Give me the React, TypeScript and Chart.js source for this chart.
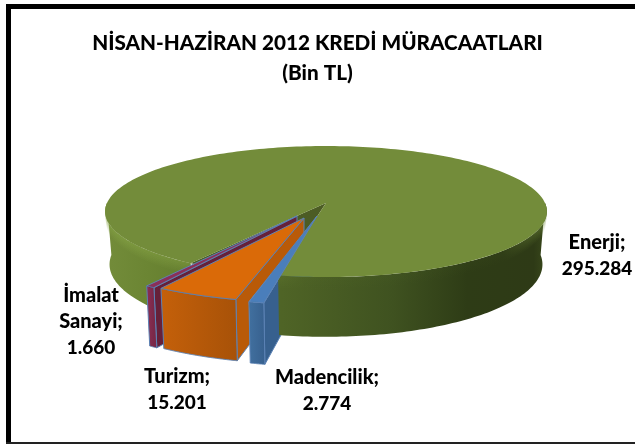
import React, { useEffect, useRef } from "react";
import { Chart, registerables } from "chart.js";

Chart.register(...registerables);

// ---- data ----
const categories = ["Madencilik", "Turizm", "İmalat Sanayi", "Enerji"];
const values = [2774, 15201, 1660, 295284];
const labelLines = [["Madencilik;"], ["Turizm;"], ["İmalat", "Sanayi;"], ["Enerji;"]];
const titleLines = ["NİSAN-HAZİRAN 2012 KREDİ MÜRACAATLARI", "(Bin TL)"];

// ---- styling ----
const FONT = "Lato, Carlito, Calibri, sans-serif";
const topColors = ["#4a7ebb", "#da6a08", "#8b2f58", "#738c3a"];
const wallColors = ["#37608e", "#b95a08", "#662039", "#4c5c24"];
const frontFrom = ["#41709f", "#c4600a", "#8b2f55", "#738c3a"];
const frontTo = ["#38618f", "#a85208", "#7a2848", "#738c3a"];
const explodeX = [-9, -22, -29, 0];
const explodeY = [13, 15, 13, 0];
const scaleX = [1.11, 1.11, 1.11, 1];
const scaleY = [1.2, 1.14, 1.16, 1];
const scaleZ = [1.03, 1.03, 1.03, 1];
const labelX = [327, 177, 91, 597];
const labelY = [378, 377, 296, 243];

const SHIFT_X = 8.5; // pie sits right of the title's centre
const P = 0.13; // perspective strength
const RX = 219 / 113; // screen half-width per unit of arc radius
const RY = 64.4 / 113;
const DEPTH = 52 / 113;

const fmt = (v: number) => String(v).replace(/\B(?=(\d{3})+$)/g, ".");

const pie3d = {
  id: "pie3d",
  beforeDraw(chart: any) {
    const c = chart.ctx;
    c.save();
    c.fillStyle = "#ffffff";
    c.fillRect(0, 0, 635, 444);
    c.fillStyle = "#000000";
    c.fillRect(6, 4, 629, 5);
    c.fillRect(6, 4, 5, 440);
    c.fillStyle = "#222222";
    c.fillRect(6, 442, 629, 2);
    c.restore();
  },
  beforeDatasetDraw(chart: any, args: any) {
    const c: CanvasRenderingContext2D = chart.ctx;
    const arcs = args.meta.data.map((e: any) =>
      e.getProps(["x", "y", "startAngle", "endAngle", "outerRadius"], true)
    );
    const R = arcs[0].outerRadius;
    const cx0 = arcs[0].x + SHIFT_X;
    const cy0 = arcs[0].y;
    const pt = (i: number, a: number, r: number, z: number): [number, number] => {
      const X = Math.cos(a) * r;
      const Y = Math.sin(a) * r;
      const w = 1 - P * Y;
      return [
        cx0 + explodeX[i] + (scaleX[i] * RX * R * X * (1 - 0.02 * z)) / w,
        cy0 + explodeY[i] + (scaleY[i] * RY * R * Y) / w + (scaleZ[i] * DEPTH * R * z) / w,
      ];
    };
    const samples = (a0: number, a1: number, n = 90) => {
      const out: number[] = [];
      for (let k = 0; k <= n; k++) out.push(a0 + ((a1 - a0) * k) / n);
      return out;
    };
    const poly = (pts: [number, number][]) => {
      c.beginPath();
      pts.forEach((p, k) => (k ? c.lineTo(p[0], p[1]) : c.moveTo(p[0], p[1])));
      c.closePath();
    };
    const band = (i: number, a0: number, a1: number, z0: number, z1: number) => {
      const as = samples(a0, a1);
      return [
        ...as.map((a) => pt(i, a, 1, z0)),
        ...as.slice().reverse().map((a) => pt(i, a, 1, z1)),
      ];
    };
    const OUT = "#5b82b5";
    const wall = (i: number) => {
      const a = arcs[i].startAngle;
      poly([pt(i, a, 0, 0), pt(i, a, 1, 0), pt(i, a, 1, 1), pt(i, a, 0, 1)]);
      c.fillStyle = wallColors[i];
      c.fill();
      c.lineWidth = 1;
      c.strokeStyle = OUT;
      c.stroke();
    };
    const faces = (i: number) => {
      const { startAngle: a0, endAngle: a1 } = arcs[i];
      const f = band(i, a0, a1, 0, 1);
      poly(f);
      const p0 = pt(i, a1, 1, 0);
      const p1 = pt(i, a0, 1, 0);
      const g = c.createLinearGradient(p0[0], 0, p1[0], 0);
      g.addColorStop(0, frontFrom[i]);
      g.addColorStop(1, frontTo[i]);
      c.fillStyle = g;
      c.fill();
      c.strokeStyle = OUT;
      c.lineWidth = 1;
      c.stroke();
      poly([pt(i, a0, 0, 0), ...samples(a0, a1).map((a) => pt(i, a, 1, 0))]);
      c.fillStyle = topColors[i];
      c.fill();
      c.stroke();
    };

    const E = 3;
    const e0 = arcs[E].startAngle;
    const e1 = arcs[E].endAngle;
    const TWO = Math.PI * 2;

    c.save();
    // inner notch of the big slice
    poly([pt(E, e0, 0, 0), ...samples(e1 - TWO, e0, 30).map((a) => pt(E, a, 1, 0))]);
    c.fillStyle = wallColors[E];
    c.fill();

    // madencilik wall sits behind the body of the big slice
    wall(0);

    // side of the big slice
    const sg = c.createLinearGradient(cx0 - 221, 0, cx0 + 221, 0);
    sg.addColorStop(0, "#738c3a");
    sg.addColorStop(0.1, "#6b8533");
    sg.addColorStop(0.2, "#627b2e");
    sg.addColorStop(0.4, "#4f6426");
    sg.addColorStop(0.65, "#3f5220");
    sg.addColorStop(0.82, "#2e3c16");
    sg.addColorStop(0.97, "#2e3a16");
    sg.addColorStop(1, "#3a4a1c");
    const ranges: [number, number][] = [
      [e0, Math.PI],
      [TWO, e1],
    ];
    ranges.forEach(([a0, a1]) => {
      poly(band(E, a0, a1, 0, 1));
      c.fillStyle = sg;
      c.fill();
    });
    // bevel
    const bg = c.createLinearGradient(cx0 - 221, 0, cx0 + 221, 0);
    bg.addColorStop(0, "rgba(135,165,70,0.9)");
    bg.addColorStop(0.25, "rgba(130,158,66,0.6)");
    bg.addColorStop(0.45, "rgba(120,148,60,0.05)");
    bg.addColorStop(0.9, "rgba(120,148,60,0.05)");
    bg.addColorStop(1, "rgba(110,138,56,0.7)");
    const steps = 7;
    for (let s = 0; s < steps; s++) {
      c.globalAlpha = 0.7 * (1 - s / steps);
      ranges.forEach(([a0, a1]) => {
        poly(band(E, a0, a1, (s / steps) * 0.2, ((s + 1) / steps) * 0.2));
        c.fillStyle = bg;
        c.fill();
      });
    }
    c.globalAlpha = 1;

    // top of the big slice
    poly([pt(E, e0, 0, 0), ...samples(e0, e1, 240).map((a) => pt(E, a, 1, 0))]);
    c.fillStyle = topColors[E];
    c.fill();

    // exploded slices, back to front; the walls stop at the next slice's edge
    const m1 = arcs[0].endAngle;
    const apexM = pt(0, m1, 0, 0);
    const rimM = pt(0, m1, 1, 0);
    const botM = pt(0, m1, 1, 1);
    c.save();
    poly([apexM, rimM, botM, [0, botM[1]], [0, apexM[1] - 10], [apexM[0], apexM[1] - 10]]);
    c.clip();
    wall(2);
    wall(1);
    c.restore();
    faces(2);
    faces(1);
    faces(0);
    c.restore();
    return false;
  },
  afterDatasetsDraw(chart: any) {
    const c: CanvasRenderingContext2D = chart.ctx;
    c.save();
    c.fillStyle = "#000000";
    c.textAlign = "center";
    c.textBaseline = "middle";
    categories.forEach((_, i) => {
      c.font = `900 20px ${FONT}`;
      labelLines[i].forEach((t, k) => c.fillText(t, labelX[i], labelY[i] + k * 26));
      c.font = `900 19px ${FONT}`;
      c.fillText(fmt(values[i]), labelX[i], labelY[i] + labelLines[i].length * 26);
    });
    c.restore();
  },
};

export default function App() {
  const ref = useRef<HTMLCanvasElement | null>(null);
  useEffect(() => {
    const chart = new Chart(ref.current as HTMLCanvasElement, {
      type: "pie",
      data: {
        labels: categories,
        datasets: [{ data: values, backgroundColor: topColors, borderWidth: 0 }],
      },
      options: {
        animation: false,
        responsive: false,
        rotation: 191,
        layout: { padding: { bottom: 128 } },
        plugins: {
          legend: { display: false },
          tooltip: { enabled: false },
          title: {
            display: true,
            text: titleLines,
            color: "#000000",
            font: { family: FONT, size: 20.7, weight: "900", lineHeight: 30 / 20.7 },
            padding: { top: 28, bottom: 2 },
          },
        },
      },
      plugins: [pie3d],
    } as any);
    return () => chart.destroy();
  }, []);
  return (
    <div style={{ position: "absolute", left: 0, top: 0, width: 635, height: 444 }}>
      <canvas ref={ref} width={635} height={444} style={{ display: "block" }} />
    </div>
  );
}
